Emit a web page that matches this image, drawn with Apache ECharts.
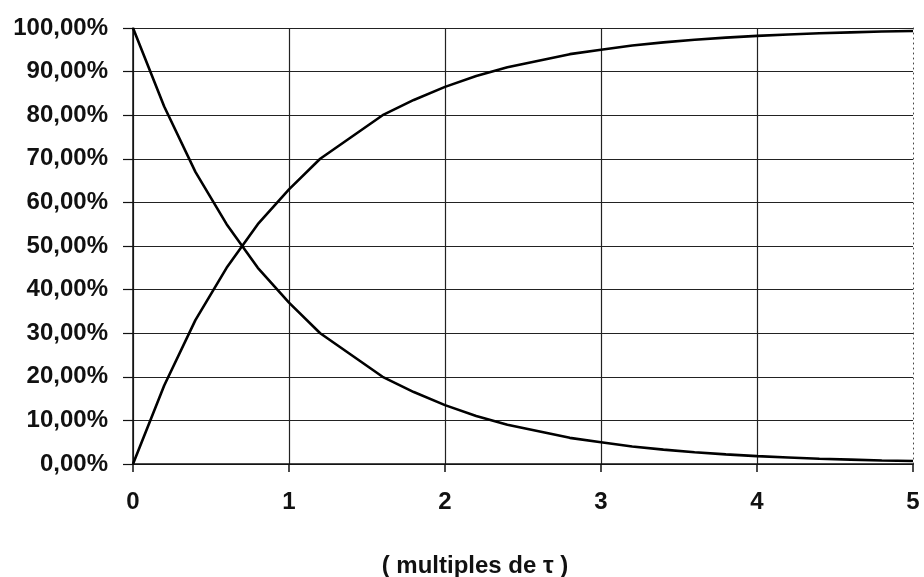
<!DOCTYPE html>
<html>
<head>
<meta charset="utf-8">
<script src="https://cdn.jsdelivr.net/npm/echarts@6/dist/echarts.min.js"></script>
<style>
  html, body { margin: 0; padding: 0; background: #fff; }
  #chart { width: 924px; height: 577px; }
</style>
</head>
<body>
<div id="chart"></div>
<script>
// Time in multiples of the time constant tau
const tauMultiples = [0, 0.2, 0.4, 0.6, 0.8, 1.0, 1.2, 1.4, 1.6, 1.8, 2.0, 2.2, 2.4,
  2.6, 2.8, 3.0, 3.2, 3.4, 3.6, 3.8, 4.0, 4.2, 4.4, 4.6, 4.8, 5.0];
// Discharge curve (fraction of initial value)
const discharge = [1.00, 0.82, 0.67, 0.55, 0.45, 0.37, 0.30, 0.25, 0.20, 0.165, 0.135, 0.11, 0.09,
  0.075, 0.06, 0.05, 0.04, 0.033, 0.027, 0.022, 0.018, 0.015, 0.012, 0.010, 0.008, 0.007];
// Charge curve (fraction of final value)
const charge = [0.00, 0.18, 0.33, 0.45, 0.55, 0.63, 0.70, 0.75, 0.80, 0.835, 0.865, 0.89, 0.91,
  0.925, 0.94, 0.95, 0.96, 0.967, 0.973, 0.978, 0.982, 0.985, 0.988, 0.990, 0.992, 0.993];
const xTicks = [0, 1, 2, 3, 4, 5];
const axisTitle = '( multiples de \u03c4 )';

const font = 'Liberation Sans, Arial, sans-serif';
const pct = v => (v * 100).toFixed(2).replace('.', ',') + '%';

const chart = echarts.init(document.getElementById('chart'), null, { renderer: 'canvas' });
chart.setOption({
  backgroundColor: '#ffffff',
  animation: false,
  grid: { left: 133, right: 11, top: 28, bottom: 113, outerBoundsMode: 'none', containLabel: false },
  xAxis: {
    type: 'value', min: 0, max: 5, interval: 1,
    name: axisTitle, nameLocation: 'middle', nameGap: 90,
    nameTextStyle: { fontFamily: font, fontSize: 24, fontWeight: 'bold', color: '#111', padding: [0, 96, 0, 0] },
    axisLine: { show: true, onZero: false, lineStyle: { color: '#111', width: 1.5 } },
    axisTick: { show: true, length: 8, lineStyle: { color: '#111', width: 1.5 } },
    axisLabel: {
      margin: 26, fontFamily: font, fontSize: 24, fontWeight: 'bold', color: '#111',
      formatter: v => xTicks.includes(v) ? String(v) : ''
    },
    splitLine: { show: true, showMaxLine: false, lineStyle: { color: '#222', width: 1.2 } }
  },
  yAxis: [{
    type: 'value', min: 0, max: 1, interval: 0.1,
    axisLine: { show: true, lineStyle: { color: '#111', width: 1.5 } },
    axisTick: { show: true, length: 10, lineStyle: { color: '#111', width: 1.2 } },
    axisLabel: { margin: 25, fontFamily: font, fontSize: 24, fontWeight: 'bold', color: '#111', formatter: pct },
    splitLine: { show: true, lineStyle: { color: '#222', width: 1.2 } }
  }, {
    type: 'value', min: 0, max: 1, interval: 0.1, position: 'right',
    axisLine: { show: true, lineStyle: { color: '#444', width: 1, type: [1, 4] } },
    axisTick: { show: false }, axisLabel: { show: false }, splitLine: { show: false }
  }],
  series: [{
    name: 'décharge', type: 'line', showSymbol: false,
    data: tauMultiples.map((t, i) => [t, discharge[i]]),
    lineStyle: { color: '#000', width: 2.6 }
  }, {
    name: 'charge', type: 'line', showSymbol: false,
    data: tauMultiples.map((t, i) => [t, charge[i]]),
    lineStyle: { color: '#000', width: 2.6 }
  }]
});
</script>
</body>
</html>
